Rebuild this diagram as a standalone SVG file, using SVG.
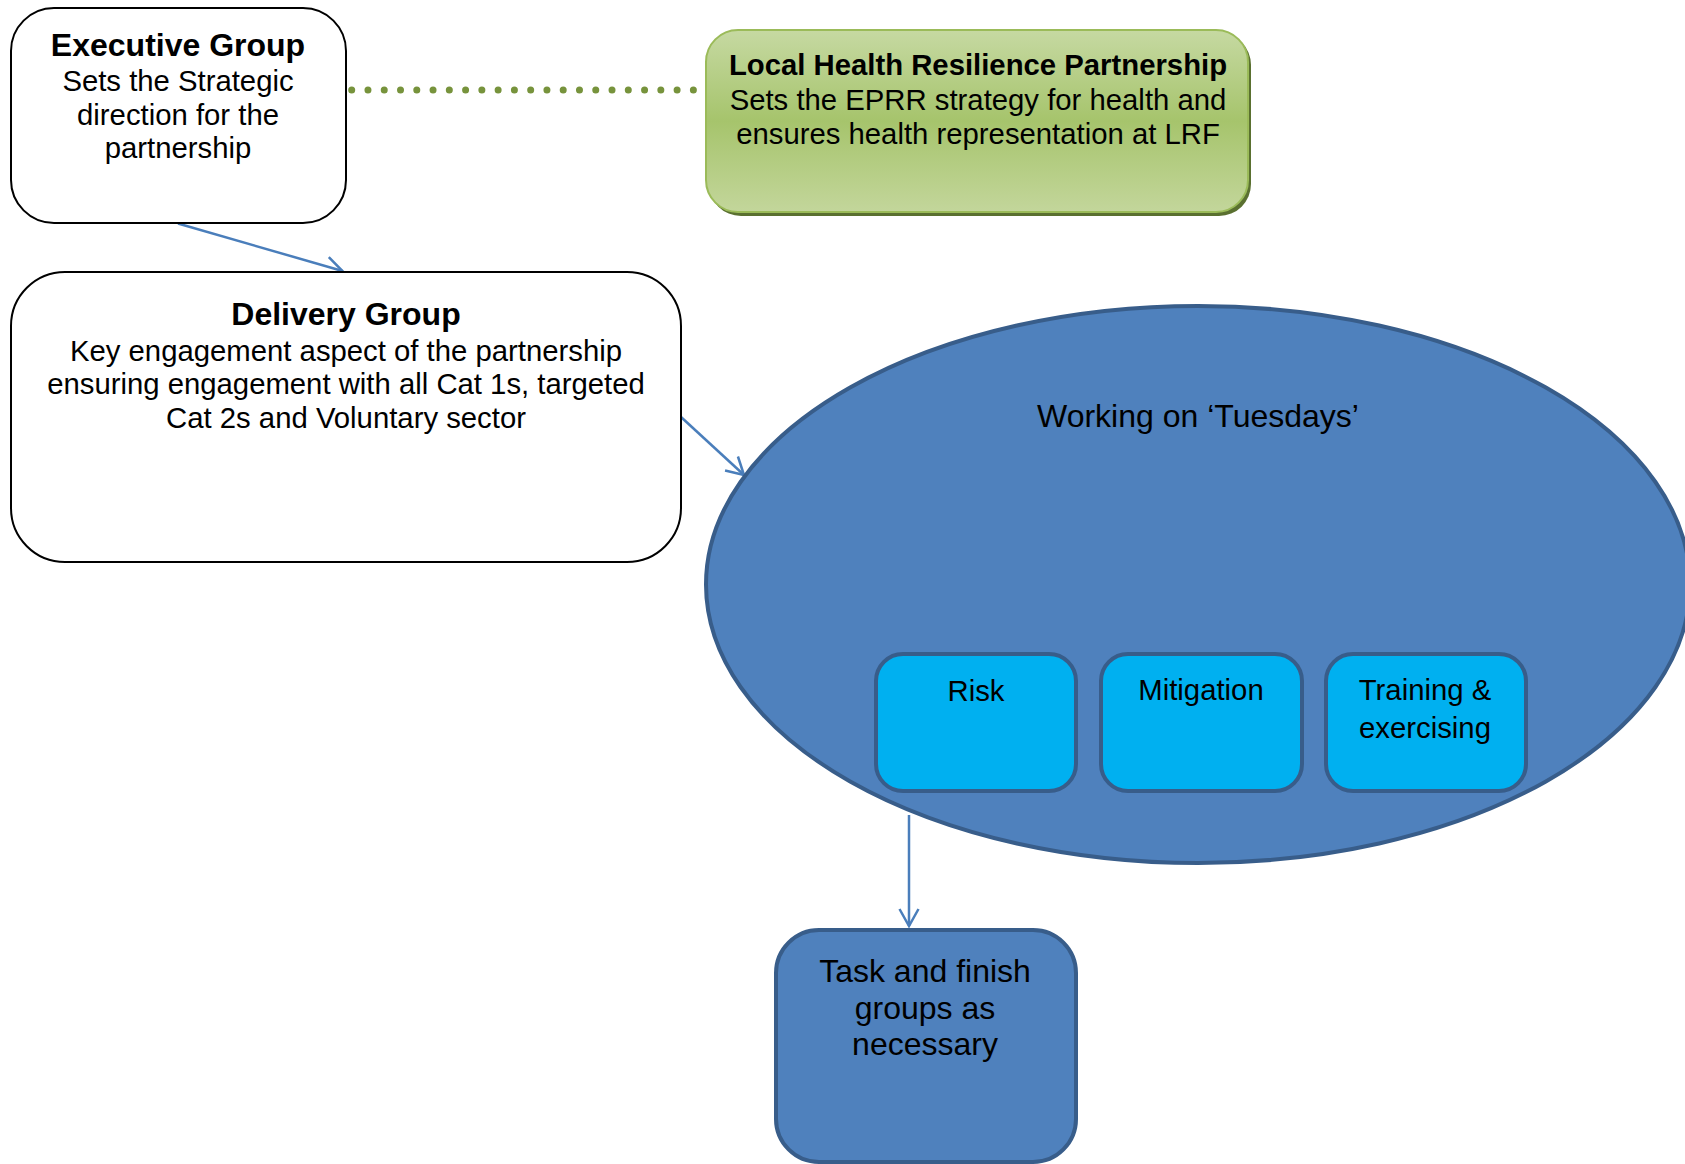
<svg xmlns="http://www.w3.org/2000/svg" width="1685" height="1164" viewBox="0 0 1685 1164">
<defs>
<style>
text{font-family:"Liberation Sans",Arial,sans-serif;fill:#000;text-anchor:middle}
.t{font-weight:bold}
.wbox{fill:#fff;stroke:#000;stroke-width:2}
.sub{fill:#00b0f0;stroke:#385d8a;stroke-width:4}
.conn{fill:none;stroke:#4a7ebb;stroke-width:2.5}
</style>
<linearGradient id="g" x1="0" y1="0" x2="0" y2="1">
<stop offset="0" stop-color="#c6d9a2"/>
<stop offset="0.5" stop-color="#a6c46c"/>
<stop offset="1" stop-color="#c3d69b"/>
</linearGradient>
<marker id="ah" viewBox="0 0 20 22" refX="18" refY="11" markerWidth="20" markerHeight="22" markerUnits="userSpaceOnUse" orient="auto">
<path d="M1,1.5 L18,11 L1,20.5" fill="none" stroke="#4a7ebb" stroke-width="2.5"/>
</marker>
</defs>
<g id="connectors">
<line x1="351.7" y1="90" x2="694" y2="90" stroke="#77933c" stroke-width="7" stroke-linecap="round" stroke-dasharray="0 16.27"/>
<line class="conn" x1="178" y1="223.5" x2="342.5" y2="271" marker-end="url(#ah)"/>
<line class="conn" x1="681" y1="417" x2="744" y2="475" marker-end="url(#ah)"/>
<line class="conn" x1="909" y1="815" x2="909" y2="926" marker-end="url(#ah)"/>
</g>
<g id="executive">
<rect class="wbox" x="11" y="8" width="335" height="215" rx="43"/>
<text x="178" y="56" class="t" font-size="32">Executive Group</text>
<text x="178" y="91" font-size="29.3">Sets the Strategic</text>
<text x="178" y="124.5" font-size="29.3">direction for the</text>
<text x="178" y="158" font-size="29.3">partnership</text>
</g>
<g id="lhrp">
<rect x="709" y="33" width="542" height="183" rx="32" fill="#5a7030"/>
<rect x="706" y="30" width="542" height="182" rx="32" fill="url(#g)" stroke="#9bbb59" stroke-width="2"/>
<text x="978" y="75" class="t" font-size="29.3">Local Health Resilience Partnership</text>
<text x="978" y="110" font-size="29.3">Sets the EPRR strategy for health and</text>
<text x="978" y="143.5" font-size="29.3">ensures health representation at LRF</text>
</g>
<g id="delivery">
<rect class="wbox" x="11" y="272" width="670" height="290" rx="54"/>
<text x="346" y="324.5" class="t" font-size="32">Delivery Group</text>
<text x="346" y="360.5" font-size="29.3">Key engagement aspect of the partnership</text>
<text x="346" y="394" font-size="29.3">ensuring engagement with all Cat 1s, targeted</text>
<text x="346" y="427.5" font-size="29.3">Cat 2s and Voluntary sector</text>
</g>
<g id="tuesdays">
<ellipse cx="1198" cy="584.5" rx="492" ry="278.5" fill="#4f81bd" stroke="#385d8a" stroke-width="4"/>
<text x="1198" y="427" font-size="32">Working on ‘Tuesdays’</text>
</g>
<g id="risk">
<rect class="sub" x="876" y="654" width="200" height="137" rx="27"/>
<text x="976" y="701" font-size="29.3">Risk</text>
</g>
<g id="mitigation">
<rect class="sub" x="1101" y="654" width="201" height="137" rx="27"/>
<text x="1201" y="700" font-size="29.3">Mitigation</text>
</g>
<g id="training">
<rect class="sub" x="1326" y="654" width="200" height="137" rx="27"/>
<text x="1425" y="700" font-size="29.3">Training &amp;</text>
<text x="1425" y="737.5" font-size="29.3">exercising</text>
</g>
<g id="taskfinish">
<rect x="776" y="930" width="300" height="232" rx="43" fill="#4f81bd" stroke="#385d8a" stroke-width="4"/>
<text x="925" y="982" font-size="32">Task and finish</text>
<text x="925" y="1019" font-size="32">groups as</text>
<text x="925" y="1055" font-size="32">necessary</text>
</g>
</svg>
